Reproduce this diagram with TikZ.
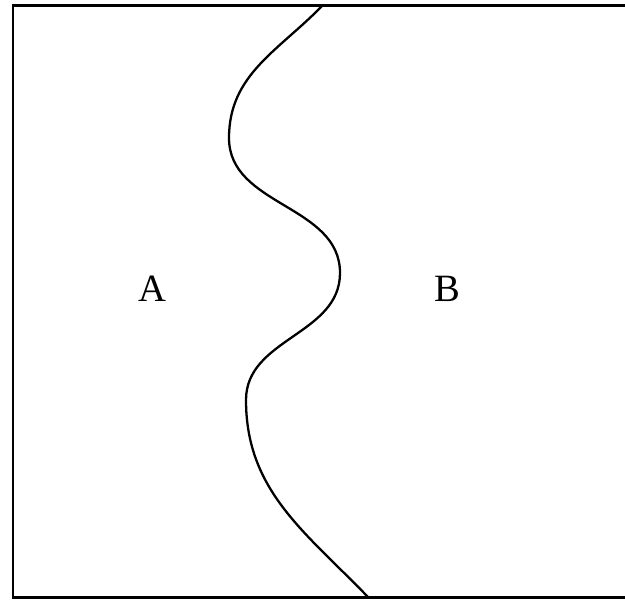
\documentclass[tikz,border=0pt]{standalone}
\usepackage{fontspec}
\setmainfont{Liberation Serif}

\tikzset{
    border/.style   = {draw = black, line width = 1.6pt},
    boundary/.style = {draw = black, line width = 1.3pt},
    region/.style   = {inner sep = 0pt, font = \fontsize{22}{26}\selectfont}
}

\begin{document}
\begin{tikzpicture}[x=0.02cm, y=0.02cm]
    \useasboundingbox (0,0) rectangle (625,599);

    % frame, open on the right
    \draw[border] (630,593.5) -- (13,593.5) -- (13,1.5) -- (630,1.5);

    % points of the dividing curve
    \coordinate (top)    at (323,594);
    \coordinate (bendA)  at (229,461);
    \coordinate (bendB)  at (340,326);
    \coordinate (bendC)  at (246,199);
    \coordinate (bottom) at (368,2);

    \draw[boundary] (top)
        to[out=226, in=90]  (bendA)
        to[out=-90, in=90]  (bendB)
        to[out=-90, in=90]  (bendC)
        to[out=-90, in=134] (bottom);

    \node[region] (regionA) at (152,310) {A};
    \node[region] (regionB) at (447,310) {B};
\end{tikzpicture}
\end{document}
